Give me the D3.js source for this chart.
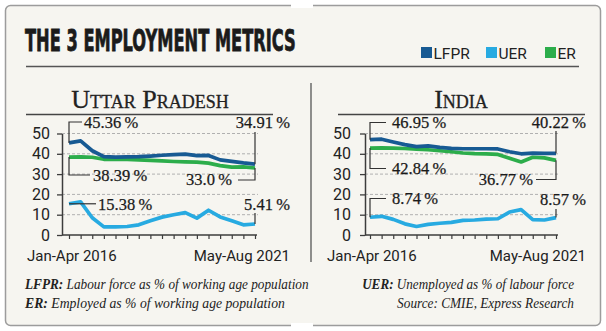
<!DOCTYPE html>
<html>
<head>
<meta charset="utf-8">
<title>The 3 employment metrics</title>
<script src="https://cdn.jsdelivr.net/npm/d3@7"></script>
<style>
  body { margin: 0; background: #fff; }
  svg { display: block; }
</style>
</head>
<body>
<script>
// four-month CMIE waves, Jan-Apr 2016 .. May-Aug 2021
var periods = ["Jan-Apr 2016", "May-Aug 2016", "Sep-Dec 2016",
               "Jan-Apr 2017", "May-Aug 2017", "Sep-Dec 2017",
               "Jan-Apr 2018", "May-Aug 2018", "Sep-Dec 2018",
               "Jan-Apr 2019", "May-Aug 2019", "Sep-Dec 2019",
               "Jan-Apr 2020", "May-Aug 2020", "Sep-Dec 2020",
               "Jan-Apr 2021", "May-Aug 2021"];
var yTicks = [0, 10, 20, 30, 40, 50];

// Uttar Pradesh, %
var upLFPR = [45.36, 46.4, 41.5, 38.6, 38.4, 38.5, 38.6, 38.9, 39.3, 39.6, 39.8, 39.1, 39.2, 37.0, 36.3, 35.5, 34.91];
var upUER  = [15.38, 16.3, 8.5, 4.0, 4.0, 4.2, 5.0, 7.0, 8.8, 10.0, 11.0, 8.3, 12.2, 8.9, 7.0, 5.0, 5.41];
var upER   = [38.39, 38.5, 38.3, 37.3, 37.4, 37.2, 37.0, 36.8, 36.5, 36.2, 36.0, 35.9, 35.4, 34.2, 33.4, 33.6, 33.0];

// India, %
var inLFPR = [46.95, 47.2, 45.8, 44.5, 43.5, 43.9, 43.2, 42.7, 42.5, 42.5, 42.5, 42.4, 41.0, 40.0, 40.3, 40.2, 40.22];
var inUER  = [8.74, 9.2, 7.7, 5.5, 4.2, 5.2, 5.8, 6.2, 7.2, 7.4, 7.8, 8.0, 11.3, 12.5, 7.6, 7.4, 8.57];
var inER   = [42.84, 42.9, 42.8, 42.6, 42.3, 42.0, 41.5, 41.0, 40.4, 40.1, 40.0, 39.7, 37.8, 36.0, 38.3, 38.0, 36.77];

var colors = {LFPR: "#175a93", UER: "#27aae1", ER: "#2cad4b"};
var ink = "#222",
    axisColor = "#3c3c3c",
    sans = "Roboto, 'Open Sans', sans-serif",
    serif = "'Liberation Serif', 'DejaVu Serif', serif";

var w = 606, h = 331;

var svg = d3.select("body").append("svg")
    .attr("width", w)
    .attr("height", h);

// squeeze a text horizontally so it spans `width` px from its anchor
function squeeze(sel, x0, y0, width) {
    var len = sel.node().getComputedTextLength();
    sel.attr("transform", "translate(" + x0 + "," + y0 + ") scale(" + Math.min(1, width / len) + ",1)");
}

// card
svg.append("rect")
    .attr("x", 5.5).attr("y", 5.5)
    .attr("width", 595).attr("height", 320)
    .attr("rx", 5)
    .attr("fill", "#f6f5f0")
    .attr("stroke", "#9c9c9c")
    .attr("stroke-width", 1.5);
// breaks in the frame, top and bottom
[3, 323].forEach(function (y0) {
    svg.append("rect").attr("x", 291).attr("y", y0)
        .attr("width", 22).attr("height", 5).attr("fill", "#fff");
});

// heading
var heading = svg.append("text")
    .attr("font-family", "'Liberation Sans Narrow', 'DejaVu Sans Condensed', 'DejaVu Sans', sans-serif")
    .attr("font-weight", "bold")
    .attr("font-size", 30)
    .attr("fill", "#1b1b1b")
    .attr("stroke", "#1b1b1b")
    .attr("stroke-width", 0.8)
    .text("THE 3 EMPLOYMENT METRICS");
squeeze(heading, 25, 51, 271);

// legend: key, x, label width
var legend = [["LFPR", 421, 37], ["UER", 486, 30], ["ER", 545, 21]];
legend.forEach(function (d) {
    svg.append("rect").attr("x", d[1]).attr("y", 47)
        .attr("width", 11).attr("height", 11)
        .attr("fill", colors[d[0]]);
    var t = svg.append("text")
        .attr("font-family", sans).attr("font-size", 15.5)
        .attr("fill", ink)
        .text(d[0]);
    squeeze(t, d[1] + 12.5, 58.5, d[2]);
});

svg.append("line")
    .attr("x1", 26).attr("x2", 579)
    .attr("y1", 66.5).attr("y2", 66.5)
    .attr("stroke", "#555").attr("stroke-width", 1.5);

// divider between the two panels
svg.append("line")
    .attr("x1", 311).attr("x2", 311)
    .attr("y1", 83).attr("y2", 262)
    .attr("stroke", "#555").attr("stroke-width", 1.3);

var panels = [
    {
        title: "Uttar Pradesh", cx: 150, rule: [26, 273],
        axisX: 62, x0: 69, x1: 255, pad: 7, left: 27, right: 290,
        series: {LFPR: upLFPR, UER: upUER, ER: upER},
        notes: [
            {key: "LFPR", first: true,  elbow: 122, arm: 13,  dx: 15,  base: 128, anchor: "start", digits: 2},
            {key: "ER",   first: true,  elbow: 175, arm: 21,  dx: 24,  base: 181, anchor: "start", digits: 2},
            {key: "UER",  first: true,  elbow: null, arm: 27, dx: 29,  base: 210, anchor: "start", digits: 2},
            {key: "LFPR", first: false, elbow: 132, arm: 0,   dx: 35,  base: 128, anchor: "end",   digits: 2},
            {key: "ER",   first: false, elbow: 180, arm: -17, dx: -23, base: 185, anchor: "end",   digits: 1},
            {key: "UER",  first: false, elbow: 213, arm: 0,   dx: 35,  base: 210, anchor: "end",   digits: 2}
        ]
    },
    {
        title: "India", cx: 461, rule: [338, 585],
        axisX: 365, x0: 370, x1: 556, pad: 9, left: 327, right: 586,
        series: {LFPR: inLFPR, UER: inUER, ER: inER},
        notes: [
            {key: "LFPR", first: true,  elbow: 122.5, arm: 16, dx: 22,  base: 128, anchor: "start", digits: 2},
            {key: "ER",   first: true,  elbow: 168.5, arm: 16, dx: 22,  base: 174, anchor: "start", digits: 2},
            {key: "UER",  first: true,  elbow: 198.5, arm: 16, dx: 22,  base: 204, anchor: "start", digits: 2},
            {key: "LFPR", first: false, elbow: 131,   arm: 0,  dx: 30,  base: 128, anchor: "end",   digits: 2},
            {key: "ER",   first: false, elbow: 179.5, arm: -20, dx: -23, base: 185, anchor: "end",  digits: 2},
            {key: "UER",  first: false, elbow: 209,   arm: 0,  dx: 30,  base: 205, anchor: "end",   digits: 2}
        ]
    }
];

panels.forEach(drawPanel);

function drawPanel(p) {
    var g = svg.append("g");

    var x = d3.scalePoint().domain(periods).range([p.x0, p.x1]);
    var y = d3.scaleLinear().domain([0, 50]).range([235, 133.5]);

    g.append("text")
        .attr("x", p.cx).attr("y", 108)
        .attr("text-anchor", "middle")
        .attr("font-family", serif)
        .attr("font-size", 26)
        .attr("font-variant", "small-caps")
        .attr("fill", ink)
        .attr("stroke", ink)
        .attr("stroke-width", 0.3)
        .text(p.title);
    g.append("line")
        .attr("x1", p.rule[0]).attr("x2", p.rule[1])
        .attr("y1", 114.5).attr("y2", 114.5)
        .attr("stroke", "#444").attr("stroke-width", 1.3);

    // dashed gridlines
    g.selectAll("line.grid")
        .data(yTicks.slice(1))
        .join("line")
        .attr("class", "grid")
        .attr("x1", p.axisX).attr("x2", p.x1 + 3)
        .attr("y1", function (d) { return y(d); })
        .attr("y2", function (d) { return y(d); })
        .attr("stroke", "#b0b0b0")
        .attr("stroke-dasharray", "3,2");

    g.append("g")
        .attr("transform", "translate(" + p.axisX + ",0)")
        .call(d3.axisLeft(y).tickValues(yTicks).tickSize(5).tickSizeOuter(0).tickPadding(p.pad))
        .call(function (a) {
            a.select(".domain").attr("stroke", axisColor).attr("stroke-width", 1.5);
            a.selectAll(".tick line").attr("stroke", axisColor).attr("stroke-width", 1.3);
            a.selectAll(".tick text")
                .attr("font-family", sans).attr("font-size", 16).attr("fill", ink);
        });

    g.append("g")
        .attr("transform", "translate(0,235)")
        .call(d3.axisBottom(x).tickSize(4).tickFormat(""))
        .call(function (a) {
            a.select(".domain").remove();
            a.selectAll(".tick line").attr("stroke", axisColor).attr("stroke-width", 1.2);
        });
    g.append("line")
        .attr("x1", p.axisX).attr("x2", p.x1 + 2)
        .attr("y1", 235).attr("y2", 235)
        .attr("stroke", axisColor).attr("stroke-width", 1.5);

    g.append("text").attr("x", p.left).attr("y", 261)
        .attr("font-family", sans).attr("font-size", 15).attr("fill", ink)
        .text(periods[0]);
    g.append("text").attr("x", p.right).attr("y", 261)
        .attr("text-anchor", "end")
        .attr("font-family", sans).attr("font-size", 15).attr("fill", ink)
        .text(periods[periods.length - 1]);

    var line = d3.line()
        .x(function (d, i) { return x(periods[i]); })
        .y(function (d) { return y(d); });

    ["UER", "ER", "LFPR"].forEach(function (k) {
        g.append("path")
            .datum(p.series[k])
            .attr("d", line)
            .attr("fill", "none")
            .attr("stroke", colors[k])
            .attr("stroke-width", 3.7)
            .attr("stroke-linejoin", "round");
    });

    // value call-outs at the first and last wave
    p.notes.forEach(function (n) {
        var vals = p.series[n.key],
            i = n.first ? 0 : vals.length - 1,
            px = x(periods[i]),
            py = y(vals[i]),
            ey = n.elbow == null ? py : n.elbow;
        g.append("path")
            .attr("d", "M" + px + "," + py + "V" + ey + (n.arm ? "H" + (px + n.arm) : ""))
            .attr("fill", "none")
            .attr("stroke", "#333")
            .attr("stroke-width", 1.2);
        g.append("text")
            .attr("x", px + n.dx).attr("y", n.base)
            .attr("text-anchor", n.anchor)
            .attr("font-family", serif)
            .attr("font-size", 16.5)
            .attr("fill", "#1a1a1a")
            .attr("stroke", "#1a1a1a")
            .attr("stroke-width", 0.25)
            .text(vals[i].toFixed(n.digits) + "\u2009%");
    });
}

// notes under the chart
var notes = svg.append("g")
    .attr("font-family", serif)
    .attr("font-style", "italic")
    .attr("font-size", 15)
    .attr("fill", ink);

function note(xp, yp, anchor, width, term, desc) {
    var t = notes.append("text").attr("text-anchor", anchor);
    if (term) t.append("tspan").attr("font-weight", "bold").text(term + " ");
    t.append("tspan").text(desc);
    squeeze(t, xp, yp, width);
}
note(25, 289, "start", 284, "LFPR:", "Labour force as % of working age population");
note(25, 308, "start", 260, "ER:", " Employed as % of working age population");
note(574, 289, "end", 212, "UER:", "Unemployed as % of labour force");
note(574, 308, "end", 177, null, "Source: CMIE, Express Research");
</script>
</body>
</html>
